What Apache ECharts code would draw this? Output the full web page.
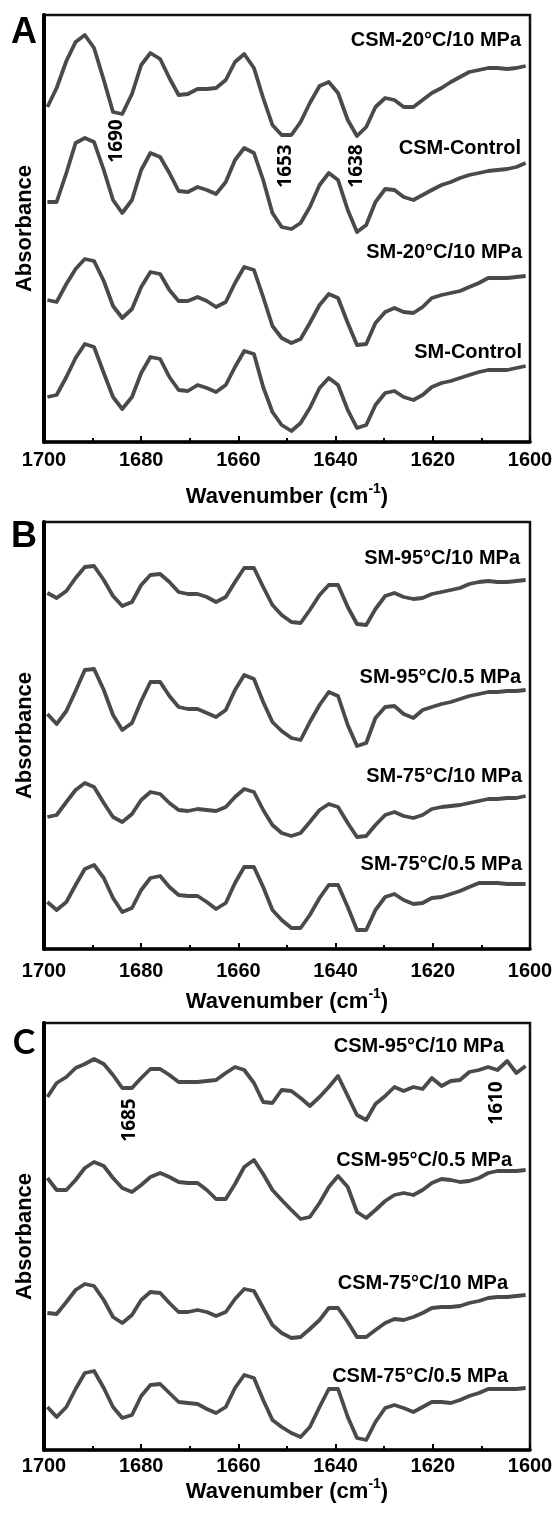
<!DOCTYPE html>
<html><head><meta charset="utf-8">
<script src="https://cdn.jsdelivr.net/npm/echarts@6/dist/echarts.min.js"></script>
<style>html,body{margin:0;padding:0;background:#fff}#c{width:556px;height:1515px}</style>
</head><body><div id="c"></div>
<script>
// Wavenumber sampling (cm-1), shared by all spectra
const wavenumbers = [1699.3,1697.4,1695.4,1693.5,1691.6,1689.7,1687.7,1685.8,1683.9,1681.9,1680.0,1678.1,1676.1,1674.2,1672.3,1670.4,1668.4,1666.5,1664.6,1662.6,1660.7,1658.8,1656.8,1654.9,1653.0,1651.1,1649.1,1647.2,1645.3,1643.3,1641.4,1639.5,1637.5,1635.6,1633.7,1631.8,1629.8,1627.9,1626.0,1624.0,1622.1,1620.2,1618.2,1616.3,1614.4,1612.5,1610.5,1608.6,1606.7,1604.7,1602.8,1600.9];
const xTickValues = [1700,1680,1660,1640,1620,1600];

// Panel A (offset absorbance, a.u. x100)
const csm20_10 = [335,354,381,400,407,394,362,330,328,348,377,389,383,364,347,348,353,353,354,362,380,388,374,344,317,307,307,320,339,356,360,349,322,306,315,335,344,342,335,335,342,349,354,360,365,370,372,374,374,373,374,376];
const csmControl = [240,240,269,299,304,300,272,242,229,242,272,289,285,269,251,250,255,252,248,260,282,294,289,262,229,215,213,219,235,257,269,262,232,210,217,240,253,252,245,242,247,252,257,260,264,267,269,271,272,273,275,279];
const sm20_10 = [142,140,158,173,183,181,161,136,124,133,155,170,168,152,141,141,145,141,135,140,159,175,172,145,116,104,99,103,119,137,148,144,119,97,98,119,130,134,130,129,135,144,147,149,151,155,159,164,164,164,165,166];
const smControl = [45,47,65,84,98,95,69,45,33,45,69,85,83,65,52,51,57,54,50,57,75,91,88,55,30,17,11,19,34,54,64,57,32,14,17,37,49,51,45,42,47,55,59,61,64,67,70,72,72,72,74,76];

// Panel B
const sm95_10 = [356,351,358,371,382,383,369,353,343,347,364,374,375,367,357,355,355,352,347,352,367,381,381,362,344,334,327,326,339,354,364,364,342,325,324,340,353,356,352,350,351,355,357,359,361,365,367,368,367,367,368,369];
const sm95_05 = [235,225,238,258,279,280,259,234,219,226,248,267,267,253,242,240,240,236,232,239,259,274,270,247,227,218,211,209,227,244,257,253,224,203,206,231,242,243,235,231,239,242,245,247,250,253,255,257,257,258,258,259];
const sm75_10 = [132,134,147,159,166,162,146,132,127,135,149,157,155,146,139,138,140,139,138,142,152,160,157,139,124,116,113,116,127,139,145,142,126,112,113,124,134,137,133,131,134,140,142,143,144,146,148,150,150,151,151,153];
const sm75_05 = [47,39,47,64,80,84,71,51,37,41,59,71,73,62,54,53,53,47,40,46,66,82,82,62,39,29,21,21,34,51,64,64,42,19,19,39,52,55,49,45,46,51,52,55,58,62,66,66,66,65,65,65];

// Panel C
const csm95_10 = [353,367,373,382,386,391,386,375,362,362,372,381,381,375,368,368,368,369,370,377,383,380,367,348,347,360,359,352,344,353,363,374,354,335,330,346,354,363,359,363,361,372,364,369,370,378,380,383,380,389,377,384];
const csm95_05 = [272,260,260,270,282,288,284,272,262,258,265,273,277,273,268,267,267,260,251,251,266,283,290,276,260,250,240,231,233,247,263,274,263,238,232,240,249,255,257,255,260,267,271,270,268,269,272,277,279,279,279,280];
const csm75_10 = [137,136,148,160,166,164,150,133,127,135,150,158,157,147,138,138,140,138,134,138,151,161,159,142,125,117,112,113,121,130,142,142,128,113,113,120,127,131,130,133,137,142,143,143,144,147,149,152,153,153,154,155];
const csm75_05 = [43,33,43,61,77,79,62,43,32,35,54,65,66,57,48,47,46,41,37,43,62,75,72,50,30,23,17,13,23,43,61,61,33,12,10,28,42,45,42,38,43,48,48,47,50,54,57,61,61,61,61,62];

// Peak annotations [wavenumber, offset absorbance, text]
const annotationsA = [[1685.0,301,'1690'],[1650.2,276,'1653'],[1635.6,276,'1638']];
const annotationsB = [];
const annotationsC = [[1682.3,330,'1685'],[1606.9,347,'1610']];

const panels = [
  {letter:'A', letterFont:'bold 36px "Liberation Sans"', top:15, letterY:33, nameGap:40, labelMargin:8,
   curves:[['CSM-20°C/10 MPa',csm20_10,521,40],['CSM-Control',csmControl,521,148],['SM-20°C/10 MPa',sm20_10,522,252],['SM-Control',smControl,522,352]],
   notes:annotationsA},
  {letter:'B', letterFont:'bold 36px "Liberation Sans"', top:522, letterY:537, nameGap:38, labelMargin:12,
   curves:[['SM-95°C/10 MPa',sm95_10,520,558],['SM-95°C/0.5 MPa',sm95_05,521,677],['SM-75°C/10 MPa',sm75_10,522,776],['SM-75°C/0.5 MPa',sm75_05,522,864]],
   notes:annotationsB},
  {letter:'C', letterFont:'bold 34px Lato', top:1023, letterY:1043, nameGap:26, labelMargin:6,
   curves:[['CSM-95°C/10 MPa',csm95_10,504,1046],['CSM-95°C/0.5 MPa',csm95_05,512,1160],['CSM-75°C/10 MPa',csm75_10,508,1283],['CSM-75°C/0.5 MPa',csm75_05,508,1376]],
   notes:annotationsC}
];

const FONT = '"Liberation Sans", Arial, sans-serif';
const grid = [], xAxis = [], yAxis = [], series = [], graphic = [];
panels.forEach((p, i) => {
  grid.push({left:44, top:p.top, width:486, height:427, show:true, borderColor:'#111', borderWidth:2.5, backgroundColor:'transparent'});
  xAxis.push({
    gridIndex:i, type:'value', inverse:true,
    min:xTickValues[xTickValues.length-1], max:xTickValues[0], interval:20,
    axisLine:{onZero:false, lineStyle:{color:'#000', width:3.5}},
    axisTick:{inside:true, length:6, lineStyle:{color:'#000', width:2}},
    minorTick:{show:true, splitNumber:2, length:4, lineStyle:{color:'#000', width:2}},
    splitLine:{show:false},
    axisLabel:{color:'#000', fontSize:20, fontWeight:'bold', fontFamily:FONT, margin:p.labelMargin,
      formatter: v => String(v)},
    name:'{b|Wavenumber (cm}{s|-1}{b|)}', nameLocation:'middle', nameGap:p.nameGap,
    nameTextStyle:{color:'#000', rich:{
      b:{fontSize:22, fontWeight:'bold', fontFamily:FONT, color:'#000', lineHeight:30, verticalAlign:'middle'},
      s:{fontSize:14, fontWeight:'bold', fontFamily:FONT, color:'#000', lineHeight:14, verticalAlign:'top'}
    }}
  });
  yAxis.push({
    gridIndex:i, type:'value', min:0, max:427,
    axisLine:{show:true, onZero:false, lineStyle:{color:'#000', width:4}},
    axisTick:{show:false}, axisLabel:{show:false}, splitLine:{show:false},
    name:'Absorbance', nameLocation:'middle', nameGap:8,
    nameTextStyle:{fontSize:22, fontWeight:'bold', fontFamily:FONT, color:'#000'}
  });
  p.curves.forEach(c => {
    series.push({
      type:'line', name:c[0], xAxisIndex:i, yAxisIndex:i,
      data: wavenumbers.map((w,k) => [w, c[1][k]]),
      symbol:'none', showSymbol:false, smooth:false,
      lineStyle:{color:'#4a4a4a', width:3.8, join:'round'}, z:3
    });
    graphic.push({type:'text', x:c[2], y:c[3], z:10,
      style:{text:c[0], fill:'#000', font:'bold 20px ' + FONT, align:'right', verticalAlign:'middle'}});
  });
  if (p.notes.length) {
    series.push({
      type:'scatter', xAxisIndex:i, yAxisIndex:i, symbolSize:0, silent:true,
      itemStyle:{color:'#fff', opacity:1}, z:5,
      data:p.notes,
      label:{show:true, position:'inside', rotate:90, formatter:q => q.data[2],
        fontSize:19, fontFamily:'"Open Sans", sans-serif', color:'#000', fontWeight:'bold', opacity:1}
    });
  }
  graphic.push({type:'text', x:24, y:p.letterY, z:10,
    style:{text:p.letter, fill:'#000', font:p.letterFont, align:'center', verticalAlign:'middle'}});
});

const chart = echarts.init(document.getElementById('c'), null, {renderer:'canvas', width:556, height:1515});
chart.setOption({animation:false, backgroundColor:'#fff', grid, xAxis, yAxis, series, graphic});
</script></body></html>
